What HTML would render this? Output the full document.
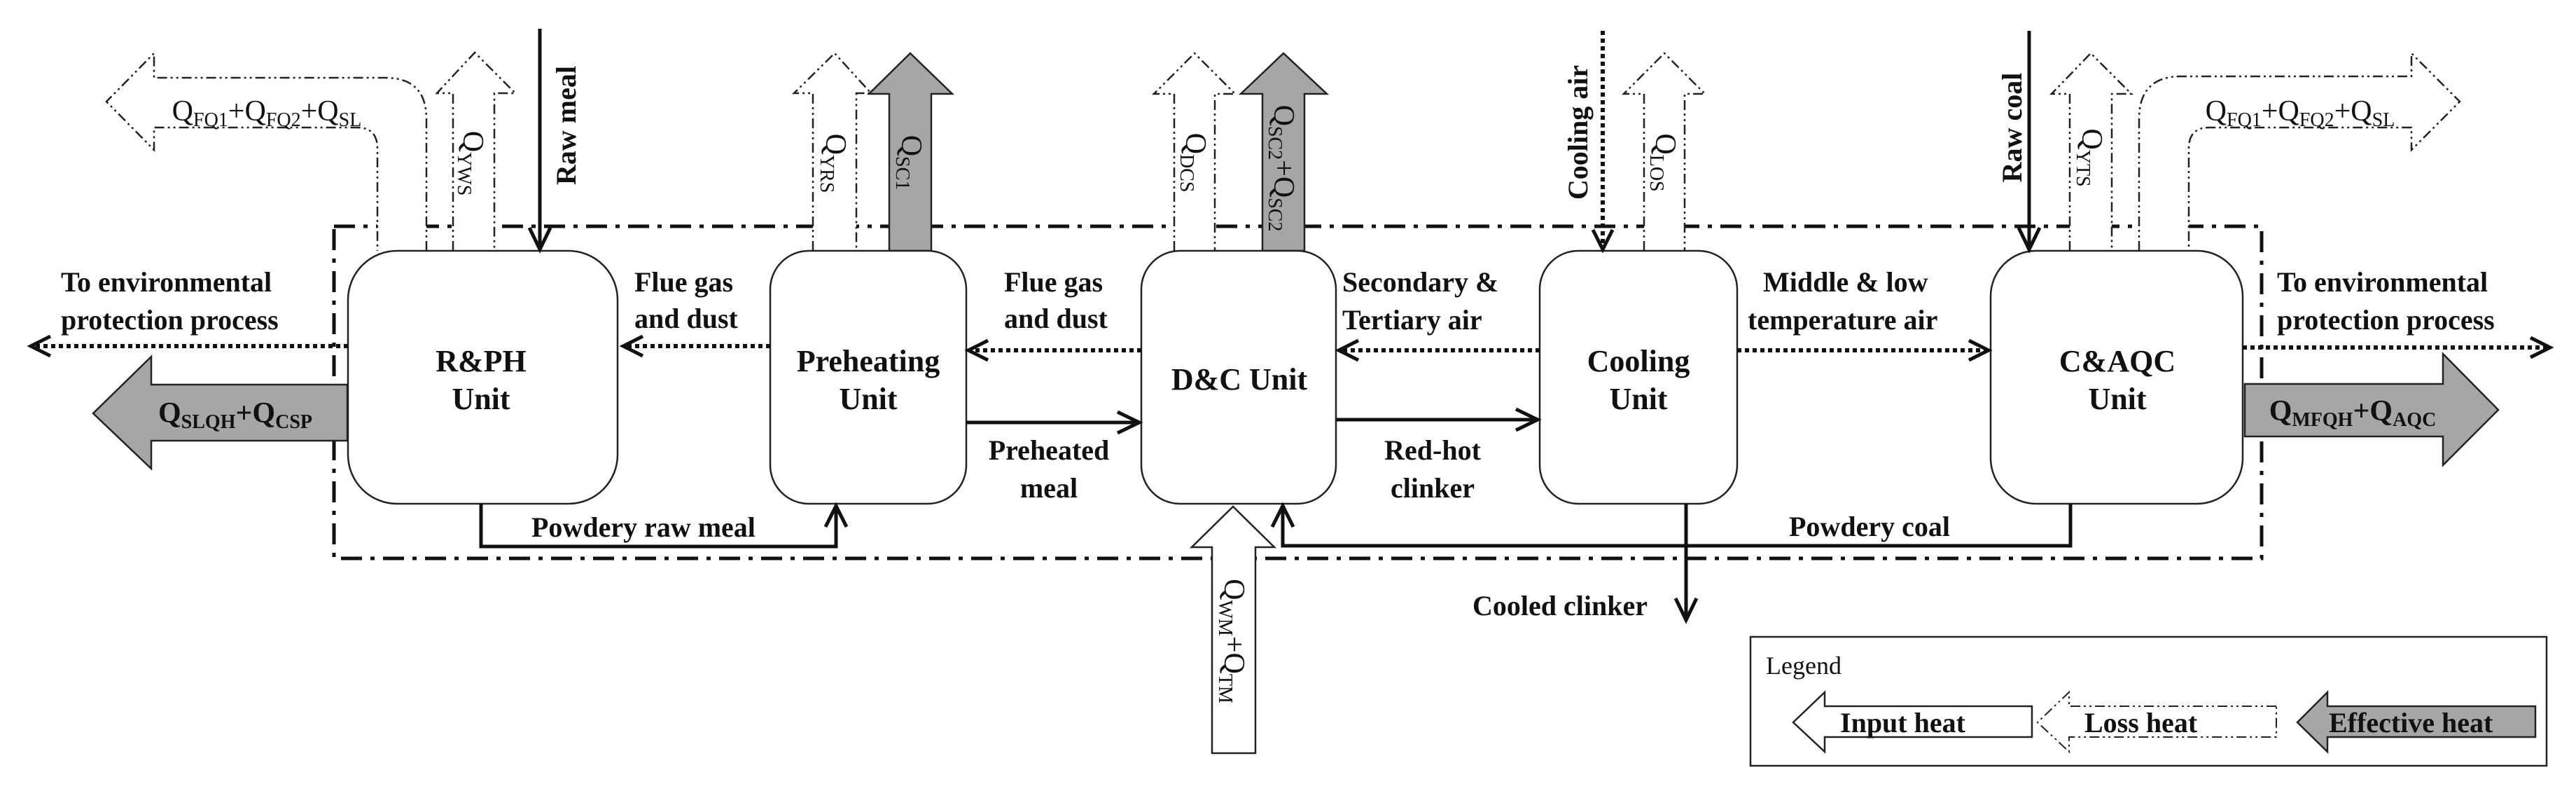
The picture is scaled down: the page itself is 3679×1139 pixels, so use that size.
<!DOCTYPE html>
<html><head><meta charset="utf-8"><style>
html,body{margin:0;padding:0;background:#fff}
svg{display:block}
svg text{font-family:"Liberation Serif","DejaVu Serif",serif;fill:#111}
.b{font-weight:bold;font-size:40px}
.q{font-size:42px}
.u{font-weight:bold;font-size:44px}
</style></head><body>
<svg width="3679" height="1139" viewBox="0 0 3679 1139" xmlns="http://www.w3.org/2000/svg" font-family="Liberation Serif, DejaVu Serif, serif">
<rect x="477" y="323" width="2753" height="474" fill="none" stroke="#111" stroke-width="5" stroke-dasharray="30 12 6 12"/>

<g fill="#fff" stroke="#222" stroke-width="2.5" stroke-dasharray="14 5 3 5 3 5">
<path d="M609,358 L609,170 Q609,111 550,111 L220,111 L220,76 L152,145 L220,214 L220,182 L510,182 Q539,182 539,212 L539,358"/>
<path d="M647,358 L647,133 L624,133 L678,75 L736,133 L706,133 L706,358"/>
<path d="M1161,358 L1161,133 L1134,133 L1192,76 L1244,133 L1223,133 L1223,358"/>
<path d="M1677,358 L1677,134 L1648,134 L1706,76 L1764,134 L1735,134 L1735,358"/>
<path d="M2348,358 L2348,134 L2319,134 L2377,76 L2435,134 L2406,134 L2406,358"/>
<path d="M2956,358 L2956,134 L2930,134 L2986,76 L3044,134 L3016,134 L3016,358"/>
<path d="M3055,358 L3055,170 Q3055,109 3115,109 L3444,109 L3444,76 L3513,145 L3444,214 L3444,182 L3155,182 Q3126,182 3126,212 L3126,358"/>
</g>
<g fill="#a6a6a6" stroke="#222" stroke-width="2.5">
<path d="M1270,358 L1270,134 L1241,134 L1300,76 L1360,134 L1330,134 L1330,358 Z"/>
<path d="M1803,358 L1803,134 L1772,134 L1833,76 L1895,134 L1863,134 L1863,358 Z"/>
<path d="M496,549 L216,549 L216,509 L133,590 L216,669 L216,629 L496,629 Z"/>
<path d="M3206,548 L3489,548 L3489,505 L3568,585 L3489,664 L3489,623 L3206,623 Z"/>
</g>
<path d="M1731,1075 L1731,781 L1702,781 L1761,723 L1820,781 L1793,781 L1793,1075 Z" fill="#fff" stroke="#222" stroke-width="2.5"/>

<g fill="#fff" stroke="#222" stroke-width="2.5">
<rect x="497" y="358" width="385" height="361" rx="70"/>
<rect x="1100" y="358" width="280" height="361" rx="55"/>
<rect x="1630" y="358" width="278" height="361" rx="55"/>
<rect x="2199" y="358" width="282" height="361" rx="55"/>
<rect x="2843" y="358" width="360" height="361" rx="65"/>
</g>

<g fill="none" stroke="#111" stroke-width="5">
<line x1="771" y1="41" x2="771" y2="355"/><polyline points="756,325 771,356 786,325"/>
<line x1="2898" y1="44" x2="2898" y2="355"/><polyline points="2883,325 2898,356 2913,325"/>
<polyline points="687,719 687,780 1194,780 1194,722"/><polyline points="1179,752 1194,722 1209,752"/>
<polyline points="2957,719 2957,779 1832,779 1832,722"/><polyline points="1817,752 1832,722 1847,752"/>
<line x1="1380" y1="603" x2="1626" y2="603"/><polyline points="1596,588 1627,603 1596,618"/>
<line x1="1909" y1="599" x2="2195" y2="599"/><polyline points="2165,584 2196,599 2165,614"/>
<line x1="2408" y1="719" x2="2408" y2="884"/><polyline points="2393,854 2408,885 2423,854"/>
</g>
<g fill="none" stroke="#111" stroke-width="6">
<line x1="497" y1="494" x2="46" y2="494" stroke-dasharray="6 5"/><polyline points="72,480 44,494 72,508" stroke-width="5"/>
<line x1="1100" y1="494" x2="892" y2="494" stroke-dasharray="6 5"/><polyline points="918,480 890,494 918,508" stroke-width="5"/>
<line x1="1630" y1="500" x2="1385" y2="500" stroke-dasharray="6 5"/><polyline points="1411,486 1383,500 1411,514" stroke-width="5"/>
<line x1="2199" y1="500" x2="1914" y2="500" stroke-dasharray="6 5"/><polyline points="1940,486 1912,500 1940,514" stroke-width="5"/>
<line x1="2481" y1="500" x2="2838" y2="500" stroke-dasharray="6 5"/><polyline points="2812,486 2840,500 2812,514" stroke-width="5"/>
<line x1="3203" y1="496" x2="3640" y2="496" stroke-dasharray="6 5"/><polyline points="3614,482 3642,496 3614,510" stroke-width="5"/>
<line x1="2289" y1="44" x2="2289" y2="354" stroke-dasharray="6 5"/><polyline points="2275,328 2289,356 2303,328" stroke-width="5"/>
</g>

<g class="u" text-anchor="middle">
<text x="687" y="530">R&amp;PH</text><text x="687" y="584">Unit</text>
<text x="1240" y="530">Preheating</text><text x="1240" y="584">Unit</text>
<text x="1770" y="556">D&amp;C Unit</text>
<text x="2340" y="530">Cooling</text><text x="2340" y="584">Unit</text>
<text x="3024" y="530">C&amp;AQC</text><text x="3024" y="584">Unit</text>
</g>

<g class="b">
<text x="87" y="416">To environmental</text><text x="87" y="470">protection process</text>
<text x="906" y="416">Flue gas</text><text x="906" y="468">and dust</text>
<text x="1434" y="416">Flue gas</text><text x="1434" y="468">and dust</text>
<text x="1917" y="416">Secondary &amp;</text><text x="1917" y="470">Tertiary air</text>
<text x="2518" y="416">Middle &amp; low</text><text x="2496" y="470">temperature  air</text>
<text x="3252" y="416">To environmental</text><text x="3252" y="470">protection process</text>
<text x="759" y="766">Powdery raw meal</text>
<text x="2555" y="765">Powdery coal</text>
<text x="2353" y="878" text-anchor="end">Cooled clinker</text>
<text x="1498" y="656" text-anchor="middle">Preheated</text><text x="1498" y="710" text-anchor="middle">meal</text>
<text x="2046" y="656" text-anchor="middle">Red-hot</text><text x="2046" y="710" text-anchor="middle">clinker</text>
<text transform="translate(822,179) rotate(-90)" text-anchor="middle">Raw meal</text>
<text transform="translate(2267,189) rotate(-90)" text-anchor="middle">Cooling air</text>
<text transform="translate(2887,182) rotate(-90)" text-anchor="middle">Raw coal</text>
</g>

<g class="q">
<text x="381" y="172" text-anchor="middle">Q<tspan font-size="28" dy="8">FQ1</tspan><tspan dy="-8">+Q</tspan><tspan font-size="28" dy="8">FQ2</tspan><tspan dy="-8">+Q</tspan><tspan font-size="28" dy="8">SL</tspan></text>
<text x="3285" y="172" text-anchor="middle">Q<tspan font-size="28" dy="8">FQ1</tspan><tspan dy="-8">+Q</tspan><tspan font-size="28" dy="8">FQ2</tspan><tspan dy="-8">+Q</tspan><tspan font-size="28" dy="8">SL</tspan></text>
<text x="336" y="603" text-anchor="middle" font-weight="bold">Q<tspan font-size="28" dy="8">SLQH</tspan><tspan dy="-8">+Q</tspan><tspan font-size="28" dy="8">CSP</tspan></text>
<text x="3360" y="600" text-anchor="middle" font-weight="bold">Q<tspan font-size="28" dy="8">MFQH</tspan><tspan dy="-8">+Q</tspan><tspan font-size="28" dy="8">AQC</tspan></text>
<text transform="translate(662,233) rotate(90)" text-anchor="middle">Q<tspan font-size="28" dy="8">YWS</tspan></text>
<text transform="translate(1180,233) rotate(90)" text-anchor="middle">Q<tspan font-size="28" dy="8">YRS</tspan></text>
<text transform="translate(1288,232) rotate(90)" text-anchor="middle">Q<tspan font-size="28" dy="8">SC1</tspan></text>
<text transform="translate(1694,232) rotate(90)" text-anchor="middle">Q<tspan font-size="28" dy="8">DCS</tspan></text>
<text transform="translate(1820,240) rotate(90)" text-anchor="middle">Q<tspan font-size="28" dy="8">SC2</tspan><tspan dy="-8">+Q</tspan><tspan font-size="28" dy="8">SC2</tspan></text>
<text transform="translate(2365,232) rotate(90)" text-anchor="middle">Q<tspan font-size="28" dy="8">LOS</tspan></text>
<text transform="translate(2974,225) rotate(90)" text-anchor="middle">Q<tspan font-size="28" dy="8">YTS</tspan></text>
<text transform="translate(1749,915) rotate(90)" text-anchor="middle">Q<tspan font-size="28" dy="8">WM</tspan><tspan dy="-8">+Q</tspan><tspan font-size="28" dy="8">TM</tspan></text>
</g>

<rect x="2500" y="909" width="1137" height="184" fill="#fff" stroke="#222" stroke-width="2.5"/>
<text x="2522" y="962" font-size="36">Legend</text>
<path d="M2902,1008 L2606,1008 L2606,988 L2561,1031 L2606,1073 L2606,1052 L2902,1052 Z" fill="#fff" stroke="#222" stroke-width="2.5"/>
<path d="M3251,1008 L2955,1008 L2955,988 L2910,1031 L2955,1073 L2955,1052 L3251,1052 Z" fill="#fff" stroke="#222" stroke-width="2" stroke-dasharray="14 5 3 5 3 5"/>
<path d="M3621,1008 L3324,1008 L3324,988 L3281,1031 L3324,1073 L3324,1052 L3621,1052 Z" fill="#a6a6a6" stroke="#222" stroke-width="2.5"/>
<g class="b"><text x="2628" y="1045">Input heat</text><text x="2977" y="1045">Loss heat</text><text x="3326" y="1045">Effective heat</text></g>
</svg>
</body></html>
